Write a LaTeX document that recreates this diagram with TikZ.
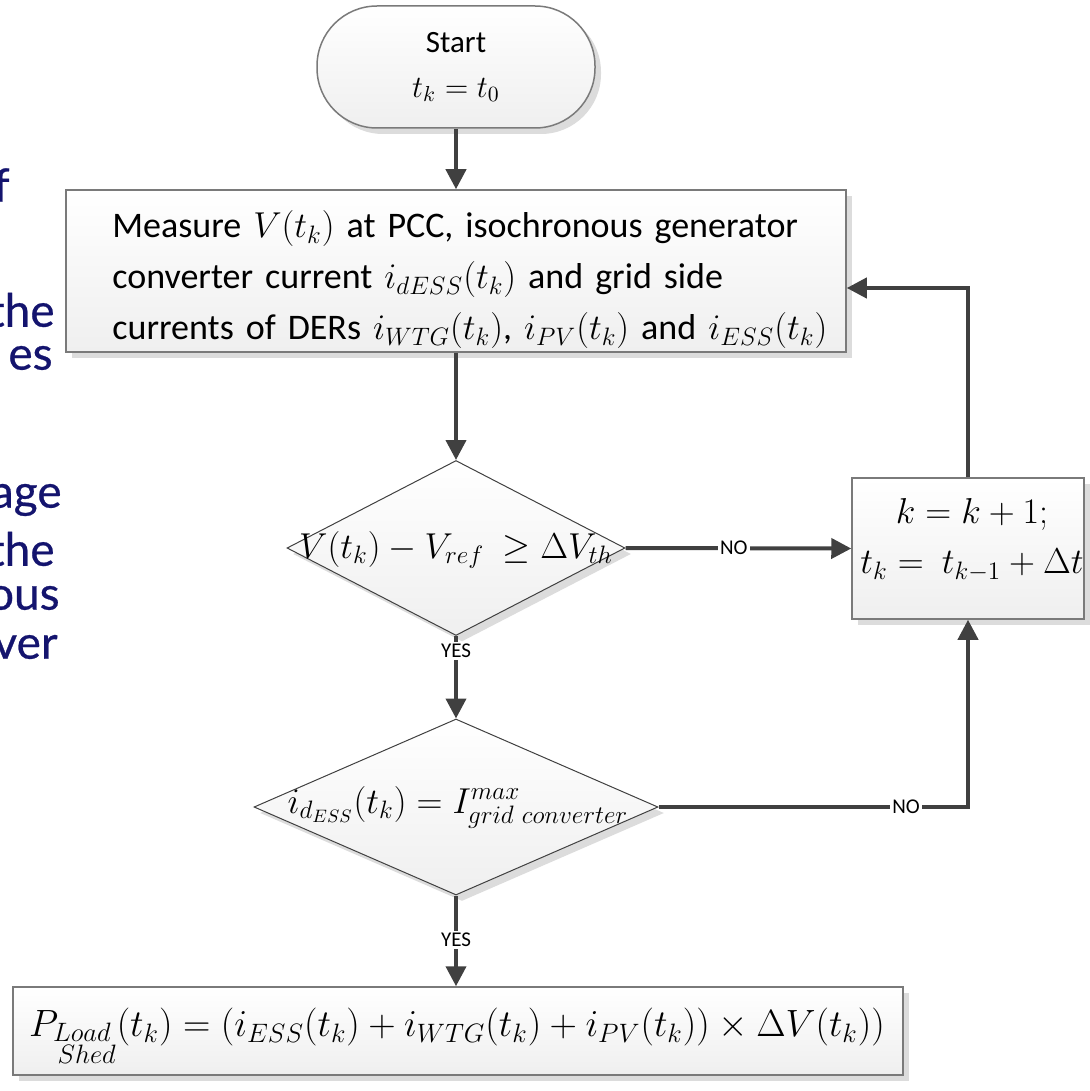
\RequirePackage{fix-cm}
\documentclass[tikz,border=0pt]{standalone}
\usepackage{amsmath}
\usepackage{fontspec}
\setmainfont{Carlito}
\newfontfamily\slidefont[FakeBold=0.6]{Lato}
\usetikzlibrary{arrows.meta,shapes.geometric,shadows}
\definecolor{boxline}{HTML}{7A7A7A}
\definecolor{boxbot}{HTML}{EFEFEF}
\definecolor{shadowc}{HTML}{DCDCDC}
\definecolor{linec}{HTML}{404040}
\definecolor{slideblue}{HTML}{14146E}
\tikzset{
  shadowed/.style={drop shadow={shadow xshift=3pt,shadow yshift=-3pt,fill=shadowc,opacity=1}},
  procbox/.style={draw=boxline,line width=0.75pt,top color=white,bottom color=boxbot,inner sep=0pt,shadowed},
  decbox/.style={diamond,draw=linec,line width=0.5pt,top color=white,bottom color=boxbot,inner sep=0pt,shadowed},
  flow/.style={draw=linec,line width=2pt,-{Triangle[length=10pt,width=10pt]}},
  lbl/.style={fill=white,inner sep=1pt,font=\fontsize{10.5}{12}\selectfont,text=black},
  slidetxt/.style={anchor=east,inner sep=0pt,text=slideblue,font=\slidefont\fontsize{23}{26}\selectfont},
}
\begin{document}
\begin{tikzpicture}[x=0.5pt,y=-0.5pt]
\useasboundingbox (0,0) rectangle (1090,1091);
% cut-off slide text at the left
\node[slidetxt] (s1) at (10,185) {f};
\node[slidetxt] (s2) at (55,310) {the};
\node[slidetxt] (s3) at (53,358) {es};
\node[slidetxt] (s4) at (62,500) {age};
\node[slidetxt] (s5) at (55,549) {the};
\node[slidetxt] (s6) at (60,598) {ous};
\node[slidetxt] (s7) at (58,647) {ver};
% start
\node[procbox,rounded corners=30pt,minimum width=139pt,minimum height=61pt,align=center,
      font=\fontsize{15.5}{22.5}\selectfont] (start) at (456,67) {Start\\$t_k = t_0$};
% measure
\node[procbox,minimum width=390pt,minimum height=81pt] (measure) at (456,271) {};
\node[align=left,text width=380pt,inner sep=0pt,anchor=west,font=\fontsize{18}{25.5}\selectfont] (measuretxt) at (112,280)
 {Measure $V(t_k)$ at PCC, isochronous generator\\
  converter current $i_{dESS}(t_k)$ and grid side\\
  currents of DERs $i_{WTG}(t_k)$, $i_{PV}(t_k)$ and $i_{ESS}(t_k)$};
% decision 1
\node[decbox,minimum width=169pt,minimum height=87.5pt] (d1) at (456,548) {};
\node[inner sep=0pt,font=\fontsize{18}{22}\selectfont] (d1txt) at (456,550) {$V(t_k) - V_{ref}\ \geq \Delta V_{th}$};
% decision 2
\node[decbox,minimum width=202pt,minimum height=88pt] (d2) at (456,807) {};
\node[inner sep=0pt,font=\fontsize{18}{22}\selectfont] (d2txt) at (458,807) {$i_{d_{ESS}}(t_k) = I^{max}_{grid\ converter}$};
% update box
\node[procbox,minimum width=116pt,minimum height=70.5pt] (upd) at (968,548.5) {};
\node[align=center,inner sep=0pt,font=\fontsize{18}{25}\selectfont] (updtxt) at (972,540)
 {$k = k + 1;$\\$t_k =\ t_{k-1} + \Delta t$};
% result
\node[procbox,minimum width=445pt,minimum height=44pt] (res) at (458,1031) {};
\node[inner sep=0pt,font=\fontsize{19}{23}\selectfont] (restxt) at (457,1036)
 {$P_{\begin{subarray}{l}Load\\ \,Shed\end{subarray}}(t_k) = (i_{ESS}(t_k) + i_{WTG}(t_k) + i_{PV}(t_k)) \times \Delta V(t_k))$};
% connectors
\draw[flow] (start.south) -- (measure.north);
\draw[flow] (measure.south) -- (d1.north);
\draw[flow] (d1.south) -- node[lbl,pos=0.18] {YES} (d2.north);
\draw[flow] (d2.south) -- node[lbl,pos=0.49] {YES} (d2.south |- res.north);
\draw[flow] (d1.east) -- node[lbl,pos=0.48] {NO} (upd.west);
\draw[flow] (d2.east) -| node[lbl,pos=0.4] {NO} (upd.south);
\draw[flow] (upd.north) |- ([yshift=-8.5pt]measure.east);
\end{tikzpicture}
\end{document}
